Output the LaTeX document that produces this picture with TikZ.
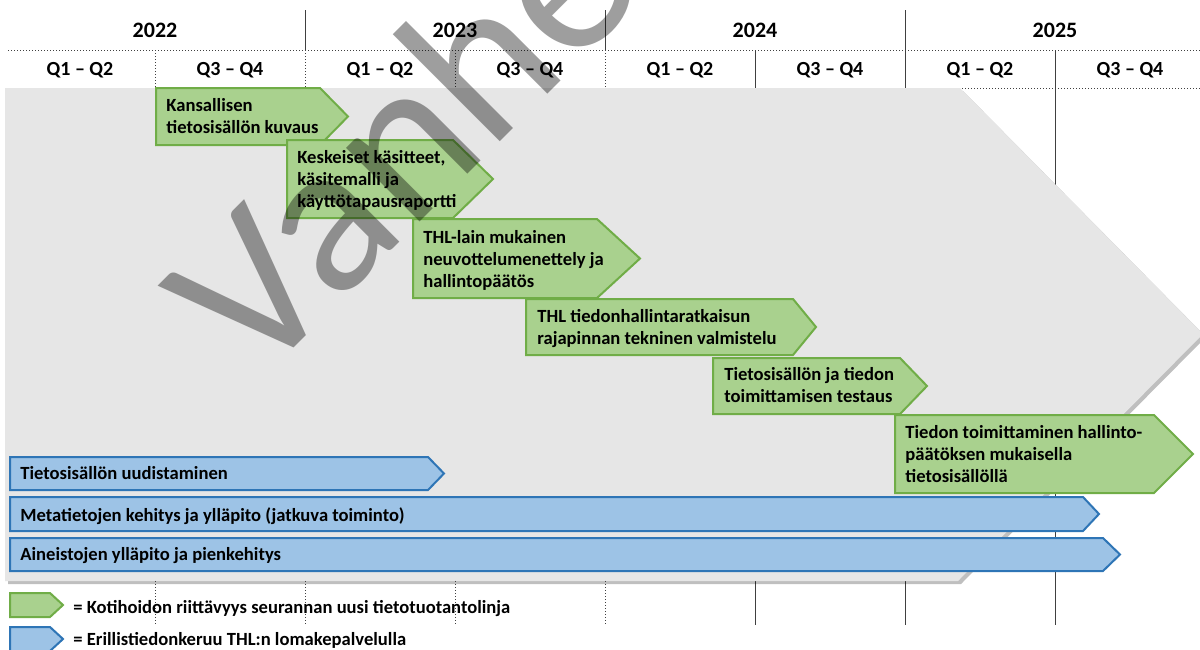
\documentclass[tikz,border=0pt]{standalone}
\usepackage{fontspec}
\setmainfont{Carlito}
\usetikzlibrary{shadows}
\definecolor{gfill}{HTML}{A9D18E}
\definecolor{gline}{HTML}{70AD47}
\definecolor{bfill}{HTML}{9DC3E6}
\definecolor{bline}{HTML}{2E75B6}
\definecolor{bgarrow}{HTML}{E6E6E6}
\definecolor{gridc}{HTML}{404040}
\newcommand{\pentarrow}[6]{\path[#1] (#2,#3) -- (#4,#3) -- (#6,{(#3+#5)/2}) -- (#4,#5) -- (#2,#5) -- cycle;}
\begin{document}
\begin{tikzpicture}[x=0.5pt,y=-0.5pt,
  greenarrow/.style={fill=gfill,draw=gline,line width=1pt},
  bluearrow/.style={fill=bfill,draw=bline,line width=1pt},
  boxtext/.style={font=\bfseries\fontsize{9.3}{11.2}\selectfont,align=left,inner sep=0pt,anchor=base west},
  yeartext/.style={font=\bfseries\fontsize{11}{13}\selectfont,inner sep=0pt,anchor=base},
  qtext/.style={font=\bfseries\fontsize{10}{12}\selectfont,inner sep=0pt,anchor=base},
  gridsolid/.style={draw=gridc,line width=0.5pt},
  griddot/.style={draw=gridc,line width=0.5pt,densely dotted},
]
\useasboundingbox (0,0) rectangle (1200,649);
\fill[white] (0,0) rectangle (1200,649);
% grid
\foreach \x in {305,605,905} \draw[gridsolid] (\x,10) -- (\x,50);
\foreach \x in {155,305,455,605} \draw[griddot] (\x,50) -- (\x,625);
\foreach \x in {755,905,1055} \draw[gridsolid] (\x,50) -- (\x,625);
\draw[griddot] (8,50) -- (1200,50);
\draw[griddot] (8,88) -- (1200,88);
% headers
\node[yeartext] (y22) at (155,37) {2022};
\node[yeartext] (y23) at (455,37) {2023};
\node[yeartext] (y24) at (755,37) {2024};
\node[yeartext] (y25) at (1055,37) {2025};
\foreach \i/\x in {1/80,3/380,5/680,7/980} \node[qtext] (q\i) at (\x,75) {Q1 – Q2};
\foreach \i/\x in {2/230,4/530,6/830,8/1130} \node[qtext] (q\i) at (\x,75) {Q3 – Q4};
% big gray arrow
\path[fill=bgarrow, drop shadow={shadow xshift=1.5pt,shadow yshift=-1.5pt,opacity=0.25,fill=black}]
  (5,88) -- (960,88) -- (1203,334) -- (958,581) -- (5,581) -- cycle;
% green arrows (text anchored at the baseline of the last line)
\pentarrow{greenarrow}{156}{88}{320}{145}{348}
\node[boxtext] (g1) at (166,133.4) {Kansallisen\\tietosisällön kuvaus};
\pentarrow{greenarrow}{287}{140}{453}{218}{493}
\node[boxtext] (g2) at (297,207.8) {Keskeiset käsitteet,\\käsitemalli ja\\käyttötapausraportti};
\pentarrow{greenarrow}{413}{219}{597}{298}{640}
\node[boxtext] (g3) at (423,287.8) {THL-lain mukainen\\neuvottelumenettely ja\\hallintopäätös};
\pentarrow{greenarrow}{526}{299}{793}{355}{816}
\node[boxtext] (g4) at (537,344.4) {THL tiedonhallintaratkaisun\\rajapinnan tekninen valmistelu};
\pentarrow{greenarrow}{713}{358}{900}{414}{927}
\node[boxtext] (g5) at (724,402.4) {Tietosisällön ja tiedon\\toimittamisen testaus};
\pentarrow{greenarrow}{895}{415}{1154}{493}{1193}
\node[boxtext] (g6) at (905,482.8) {Tiedon toimittaminen hallinto-\\päätöksen mukaisella\\tietosisällöllä};
% blue arrows
\pentarrow{bluearrow}{10}{457}{428}{490}{444}
\node[boxtext] (b1) at (20,479) {Tietosisällön uudistaminen};
\pentarrow{bluearrow}{10}{497}{1083}{531}{1099}
\node[boxtext] (b2) at (20,521) {Metatietojen kehitys ja ylläpito (jatkuva toiminto)};
\pentarrow{bluearrow}{10}{538}{1103}{571}{1120}
\node[boxtext] (b3) at (20,560) {Aineistojen ylläpito ja pienkehitys};
% legend
\pentarrow{greenarrow}{10}{593}{50}{617}{63}
\node[boxtext] (lg) at (73,613) {= Kotihoidon riittävyys seurannan uusi tietotuotantolinja};
\pentarrow{bluearrow}{10}{627}{50}{651}{63}
\node[boxtext] (lb) at (73,645) {= Erillistiedonkeruu THL:n lomakepalvelulla};
% watermark
\node[font=\fontsize{109}{120}\selectfont, text=black, text opacity=0.38, rotate=45, anchor=base west, inner sep=0pt] (wm) at (256,386) {Vanhentunut};
\end{tikzpicture}
\end{document}
